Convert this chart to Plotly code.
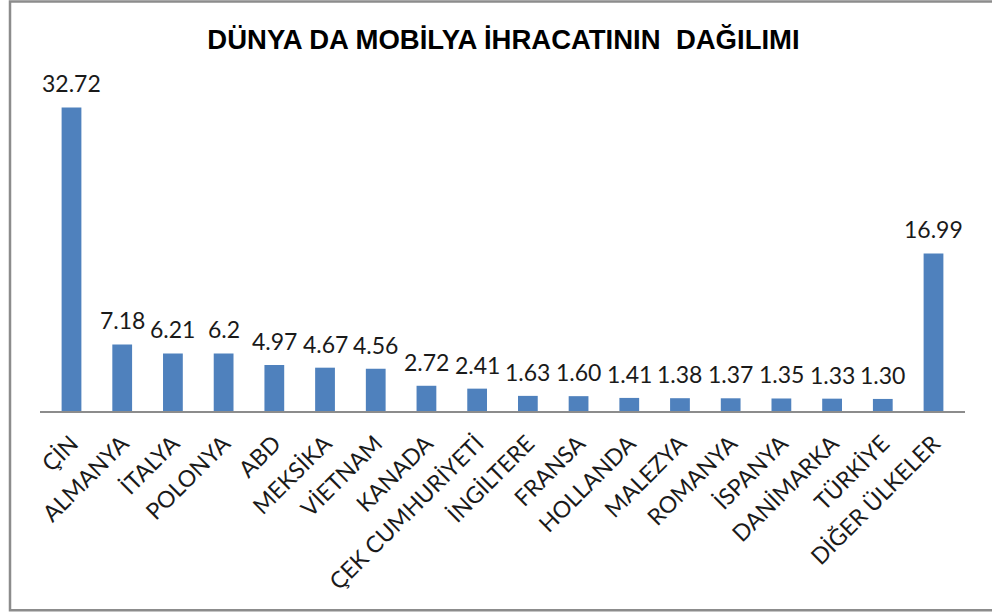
import plotly.graph_objects as go

# ── Data ─────────────────────────────────────────
countries = [
    "ÇİN", "ALMANYA", "İTALYA", "POLONYA", "ABD", "MEKSİKA", "VİETNAM",
    "KANADA", "ÇEK CUMHURİYETİ", "İNGİLTERE", "FRANSA", "HOLLANDA",
    "MALEZYA", "ROMANYA", "İSPANYA", "DANİMARKA", "TÜRKİYE", "DİĞER ÜLKELER",
]
shares = [32.72, 7.18, 6.21, 6.2, 4.97, 4.67, 4.56, 2.72, 2.41, 1.63,
          1.60, 1.41, 1.38, 1.37, 1.35, 1.33, 1.30, 16.99]
share_labels = ["32.72", "7.18", "6.21", "6.2", "4.97", "4.67", "4.56", "2.72",
                "2.41", "1.63", "1.60", "1.41", "1.38", "1.37", "1.35", "1.33",
                "1.30", "16.99"]

title_text = "DÜNYA DA MOBİLYA İHRACATININ\u00a0 DAĞILIMI"

BAR_COLOR = "#4F81BD"
FRAME_COLOR = "#8C8C8C"
TEXT_FONT = "Lato, Calibri, sans-serif"

# plot-area geometry (pixels)
W, H = 992, 615
L, R, T, B = 40, 27, 70, 203.5
plot_w = W - L - R
plot_h = H - T - B
y_top = 36.76

fig = go.Figure()

fig.add_trace(go.Bar(
    x=countries, y=shares,
    marker=dict(color=BAR_COLOR, line=dict(width=0)),
    hoverinfo="x+y",
    showlegend=False,
))

# value labels above bars
annotations = []
for c, v, t in zip(countries, shares, share_labels):
    annotations.append(dict(
        x=c, y=v, xref="x", yref="y", text=t, showarrow=False,
        yanchor="bottom", yshift=8,
        font=dict(family=TEXT_FONT, size=23, color="#1a1a1a"),
    ))

# outer chart frame (left/top/bottom visible, right edge cut off)
fig.add_shape(
    type="rect", xref="paper", yref="paper",
    x0=(10 - L) / plot_w, x1=(1020 - L) / plot_w,
    y0=-(611 - (H - B)) / plot_h, y1=((H - B) - 1.5) / plot_h,
    line=dict(color=FRAME_COLOR, width=2.5),
    layer="below",
)

fig.update_layout(
    width=W, height=H,
    margin=dict(l=L, r=R, t=T, b=B, pad=0),
    paper_bgcolor="white",
    plot_bgcolor="white",
    bargap=0.61,
    title=dict(
        text=f"<b>{title_text}</b>",
        x=(503.5 - L) / plot_w, xref="paper", xanchor="center",
        y=1 - 39 / H, yref="container", yanchor="middle",
        font=dict(family="Liberation Sans, Arial, sans-serif", size=27.5, color="#000000"),
    ),
    xaxis=dict(
        showgrid=False,
        showline=True, linecolor="#8C8C8C", linewidth=2,
        ticks="",
        tickangle=-45,
        ticklabelstandoff=8,
        tickfont=dict(family=TEXT_FONT, size=23, color="#1a1a1a"),
    ),
    yaxis=dict(
        range=[0, y_top],
        showgrid=False, showline=False, zeroline=False,
        showticklabels=False, ticks="",
    ),
    annotations=annotations,
)

# drop the default body margin so the figure sits at the page corner
fig.write_html(
    "out.html",
    config={"displayModeBar": False},
    post_script="document.body.style.margin='0';",
)
